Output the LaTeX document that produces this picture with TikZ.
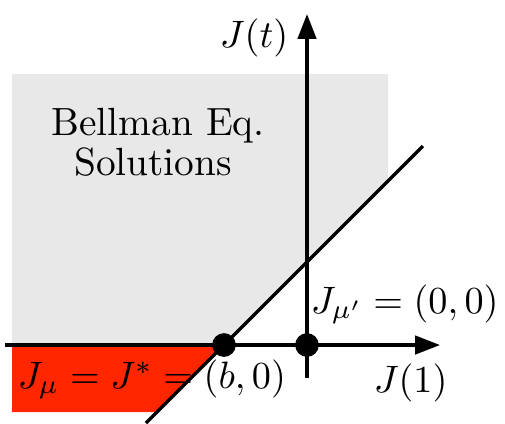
\documentclass[tikz,border=0pt]{standalone}
\usetikzlibrary{arrows.meta}
\definecolor{bgray}{RGB}{232,232,232}
\definecolor{bred}{RGB}{255,38,0}
\begin{document}
\begin{tikzpicture}[x=0.2618pt,y=-0.2618pt,
  axis/.style={line width=0.85pt,-{Triangle[length=6.5pt,width=4.8pt]}},
  dot/.style={circle,fill=black,inner sep=0pt,minimum size=6.2pt},
  lbl/.style={inner sep=0pt,font=\fontsize{10.3}{12}\selectfont}]
\useasboundingbox (0,0) rectangle (505,423);
% regions
\fill[bgray] (12,74) -- (388,74) -- (388,181) -- (224,345) -- (12,345) -- cycle;
\fill[bred] (12,345) -- (224,345) -- (157,412) -- (12,412) -- cycle;
% coordinates
\coordinate (xs) at (5,345);
\coordinate (xe) at (440,345);
\coordinate (ys) at (307,378);
\coordinate (ye) at (307,14);
\coordinate (ls) at (146,423);
\coordinate (le) at (423,146);
% axes
\draw[axis] (xs) -- (xe);
\draw[axis] (ys) -- (ye);
\draw[line width=0.85pt] (ls) -- (le);
% dots
\node[dot] (b) at (224,345) {};
\node[dot] (o) at (307,345) {};
% labels
\node[lbl,anchor=base] (t1) at (158,135) {Bellman Eq.};
\node[lbl,anchor=base] (t2) at (153,175) {Solutions};
\node[lbl,anchor=base east] (jt) at (289,47) {$J(t)$};
\node[lbl,anchor=base west] (j1) at (373,392) {$J(1)$};
\node[lbl,anchor=base west] (jmp) at (310,313) {$J_{\mu'}=(0,0)$};
\node[lbl,anchor=base west] (jm) at (17,388) {$J_{\mu}=J^{*}=(b,0)$};
\end{tikzpicture}
\end{document}
